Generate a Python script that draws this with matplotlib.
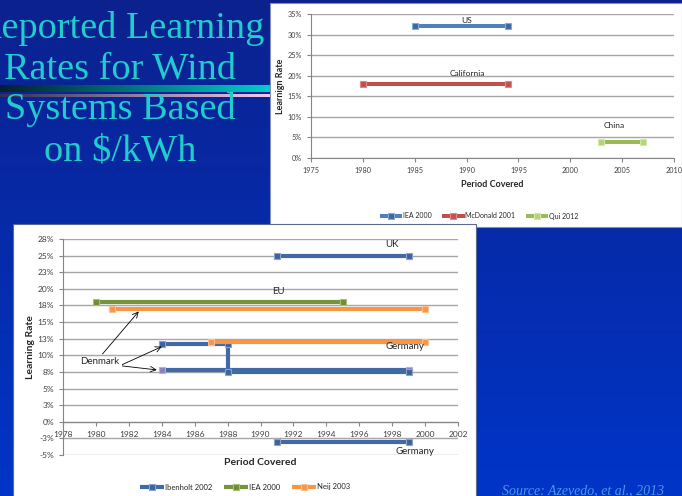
import math
import numpy as np
import matplotlib
matplotlib.use('Agg')
import matplotlib.pyplot as plt
from matplotlib.patches import Rectangle
from matplotlib.lines import Line2D
from matplotlib.ticker import FuncFormatter, MultipleLocator

nan = np.nan

# slide heading and source note
title_lines = ['Reported Learning', 'Rates for Wind', 'Systems Based', 'on $/kWh']
source_note = 'Source: Azevedo, et al., 2013'

# upper chart: US, California, China
top_series = ['IEA 2000', 'McDonald 2001', 'Qui 2012']
top_regions = ['US', 'California', 'China']
top_years = [[1985, 1994], [1980, 1994], [2003, 2007]]
top_rates = [[32, 32], [18, 18], [4, 4]]

# lower chart: European studies
low_series = ['Ibenholt 2002', 'IEA 2000', 'Neij 2003']
ibenholt_years = [1991, 1999, nan, 1984, 1988, 1988, 1999, nan, 1991, 1999]
ibenholt_rates = [25, 25, nan, 11.7, 11.7, 7.5, 7.5, nan, -3, -3]
denmark_years = [1984, 1999]
denmark_rates = [7.8, 7.8]
iea_years = [1980, 1995]
iea_rates = [18, 18]
neij_years = [1981, 2000, nan, 1987, 2000]
neij_rates = [17, 17, nan, 12, 12]

W, H = 682, 496
fig = plt.figure(figsize=(W / 100, H / 100), dpi=100)

# background layer in pixel units
bg = fig.add_axes([0, 0, 1, 1], zorder=0)
bg.set_xlim(0, W)
bg.set_ylim(H, 0)
bg.axis('off')

grad = np.linspace(0, 1, 256)[:, None]
top_c = np.array([0x0c, 0x21, 0x8e]) / 255
bot_c = np.array([0x00, 0x35, 0xc8]) / 255
img = top_c[None, None, :] * (1 - grad[:, :, None]) + bot_c[None, None, :] * grad[:, :, None]
bg.imshow(img, extent=[0, W, H, 0], aspect='auto', zorder=0)

# decorative bars under the heading
hx = np.linspace(0, 1, 256)[None, :]
c1a, c1b = np.array([0x05, 0x20, 0x30]) / 255, np.array([0x00, 0xcc, 0xcc]) / 255
bar1 = c1a[None, None, :] * (1 - hx[:, :, None]) + c1b[None, None, :] * hx[:, :, None]
bg.imshow(bar1, extent=[0, 270, 92, 85], aspect='auto', zorder=1)
c2a, c2b = np.array([0x30, 0x30, 0x50]) / 255, np.array([0xf4, 0xc8, 0xf0]) / 255
bar2 = c2a[None, None, :] * (1 - hx[:, :, None]) + c2b[None, None, :] * hx[:, :, None]
bg.imshow(bar2, extent=[0, 270, 97, 94], aspect='auto', zorder=1)

for i, line in enumerate(title_lines):
    bg.text(120, 38 + i * 40.7, line, ha='center', va='baseline',
            fontsize=27.5, family='Liberation Serif', color='#22cccc', zorder=3)

# white chart panels
bg.add_patch(Rectangle((270, 3), W - 270, 224, facecolor='white',
                       edgecolor='#8090b0', lw=0.8, zorder=2))
bg.add_patch(Rectangle((13, 224), 463, H - 224 + 2, facecolor='white',
                       edgecolor='#5a6a90', lw=0.8, zorder=2))

bg.text(583, 494, source_note, ha='center', va='baseline', fontsize=10,
        family='Liberation Serif', style='italic', color='#4a96e8', zorder=3)

plt.rcParams['font.family'] = 'Lato'
grid_c = '#a6a6a6'
tick_c = '#404040'


def style_axes(ax, tick_size):
    ax.set_facecolor('none')
    ax.yaxis.grid(True, color=grid_c, lw=1.0)
    ax.set_axisbelow(True)
    for s in ['top', 'right']:
        ax.spines[s].set_visible(False)
    for s in ['left', 'bottom']:
        ax.spines[s].set_color('#868686')
        ax.spines[s].set_linewidth(0.8)
    ax.tick_params(axis='both', direction='out', length=3, width=0.8,
                   color='#868686', labelsize=tick_size, labelcolor=tick_c)


# ---- upper chart ----
ax1 = fig.add_axes([311 / W, 1 - 158 / H, 363 / W, 144 / H], zorder=5)
style_axes(ax1, 5.2)
top_line = ['#4f81bd', '#c0504d', '#9bbb59']
top_face = ['#3a68a5', '#c0504d', '#b3d47a']
top_edge = ['#8aa8d4', '#d98a88', '#d2eaa6']
for yrs, rts, lc, fc, ec, name in zip(top_years, top_rates, top_line, top_face,
                                      top_edge, top_series):
    ax1.plot(yrs, rts, color=lc, lw=2.9, marker='s', ms=5, mfc=fc, mec=ec,
             mew=0.8, label=name, solid_capstyle='butt')
ax1.set_xlim(1975, 2010)
ax1.set_ylim(0, 35)
ax1.xaxis.set_major_locator(MultipleLocator(5))
ax1.yaxis.set_major_locator(MultipleLocator(5))
ax1.yaxis.set_major_formatter(FuncFormatter(lambda v, p: f'{v:.0f}%'))
ax1.text(1990.0, 33.5, top_regions[0], ha='center', va='center', fontsize=6, color='#262626')
ax1.text(1990.1, 20.6, top_regions[1], ha='center', va='center', fontsize=6, color='#262626')
ax1.text(2004.2, 8.0, top_regions[2], ha='center', va='center', fontsize=6, color='#262626')
ax1.set_xlabel('Period Covered', fontsize=6.5, fontweight='bold', color='#262626')
ax1.xaxis.set_label_coords(0.5, -0.155)
ax1.set_ylabel('Learnign Rate', fontsize=6.5, fontweight='bold', color='#262626')
ax1.yaxis.set_label_coords(-0.072, 0.5)
ax1.legend(loc='center', bbox_to_anchor=(479 / W, 1 - 216 / H),
           bbox_transform=fig.transFigure, ncol=3, frameon=False, fontsize=5,
           handlelength=3.2, handletextpad=0.1, columnspacing=1.5)
for t in ax1.get_legend().get_texts():
    t.set_color('#262626')

# ---- lower chart ----
ax2 = fig.add_axes([63 / W, 1 - 455 / H, 395 / W, 216 / H], zorder=5)
style_axes(ax2, 6)
ax2.spines['bottom'].set_position(('data', 0))
blue, blue_f, blue_e = '#4069a6', '#3a63a0', '#8aa2cc'
green, green_f, green_e = '#77933c', '#6f8c36', '#a8c070'
orange, orange_f, orange_e = '#f79646', '#f79646', '#fbc090'
ax2.plot(denmark_years, denmark_rates, color=blue, lw=3, marker='s', ms=5,
         mfc='#8a82c0', mec='#b4aedc', mew=0.8, solid_capstyle='butt')
ax2.plot(ibenholt_years, ibenholt_rates, color=blue, lw=3, marker='s', ms=5,
         mfc=blue_f, mec=blue_e, mew=0.8, label=low_series[0], solid_capstyle='butt')
ax2.plot(iea_years, iea_rates, color=green, lw=3, marker='s', ms=5,
         mfc=green_f, mec=green_e, mew=0.8, label=low_series[1], solid_capstyle='butt')
ax2.plot(neij_years, neij_rates, color=orange, lw=3, marker='s', ms=5,
         mfc=orange_f, mec=orange_e, mew=0.8, label=low_series[2], solid_capstyle='butt')
ax2.set_xlim(1978, 2002)
ax2.set_ylim(-5, 27.5)
ax2.xaxis.set_major_locator(MultipleLocator(2))
ax2.yaxis.set_major_locator(MultipleLocator(2.5))


def pct_label(v, pos):
    n = int(math.floor(abs(v) + 0.5 + 1e-9))
    return f"{'-' if v < 0 and n else ''}{n}%"


ax2.yaxis.set_major_formatter(FuncFormatter(pct_label))
ax2.text(1998.0, 26.7, 'UK', ha='center', va='center', fontsize=7, color='#262626')
ax2.text(1991.1, 19.6, 'EU', ha='center', va='center', fontsize=7, color='#262626')
ax2.text(1998.8, 11.3, 'Germany', ha='center', va='center', fontsize=7, color='#262626')
ax2.text(1999.4, -4.4, 'Germany', ha='center', va='center', fontsize=7, color='#262626')
ax2.text(1980.2, 9.0, 'Denmark', ha='center', va='center', fontsize=7, color='#262626')
arrow = dict(arrowstyle='->', lw=0.6, color='black', shrinkA=0, shrinkB=0)
ax2.annotate('', xy=(1982.6, 16.6), xytext=(1980.4, 10.2), arrowprops=arrow)
ax2.annotate('', xy=(1984.0, 11.3), xytext=(1981.6, 8.6), arrowprops=arrow)
ax2.annotate('', xy=(1983.7, 7.8), xytext=(1981.6, 8.4), arrowprops=arrow)
ax2.set_xlabel('Period Covered', fontsize=7.5, fontweight='bold', color='#262626')
ax2.xaxis.set_label_coords(0.5, -0.012)
ax2.set_ylabel('Learning Rate', fontsize=7.5, fontweight='bold', color='#262626')
ax2.yaxis.set_label_coords(-0.071, 0.5)
ax2.legend(loc='center', bbox_to_anchor=(245 / W, 1 - 487 / H),
           bbox_transform=fig.transFigure, ncol=3, frameon=False, fontsize=5.5,
           handlelength=3.2, handletextpad=0.1, columnspacing=1.5)
for t in ax2.get_legend().get_texts():
    t.set_color('#262626')

fig.savefig('out.png', dpi=100)
